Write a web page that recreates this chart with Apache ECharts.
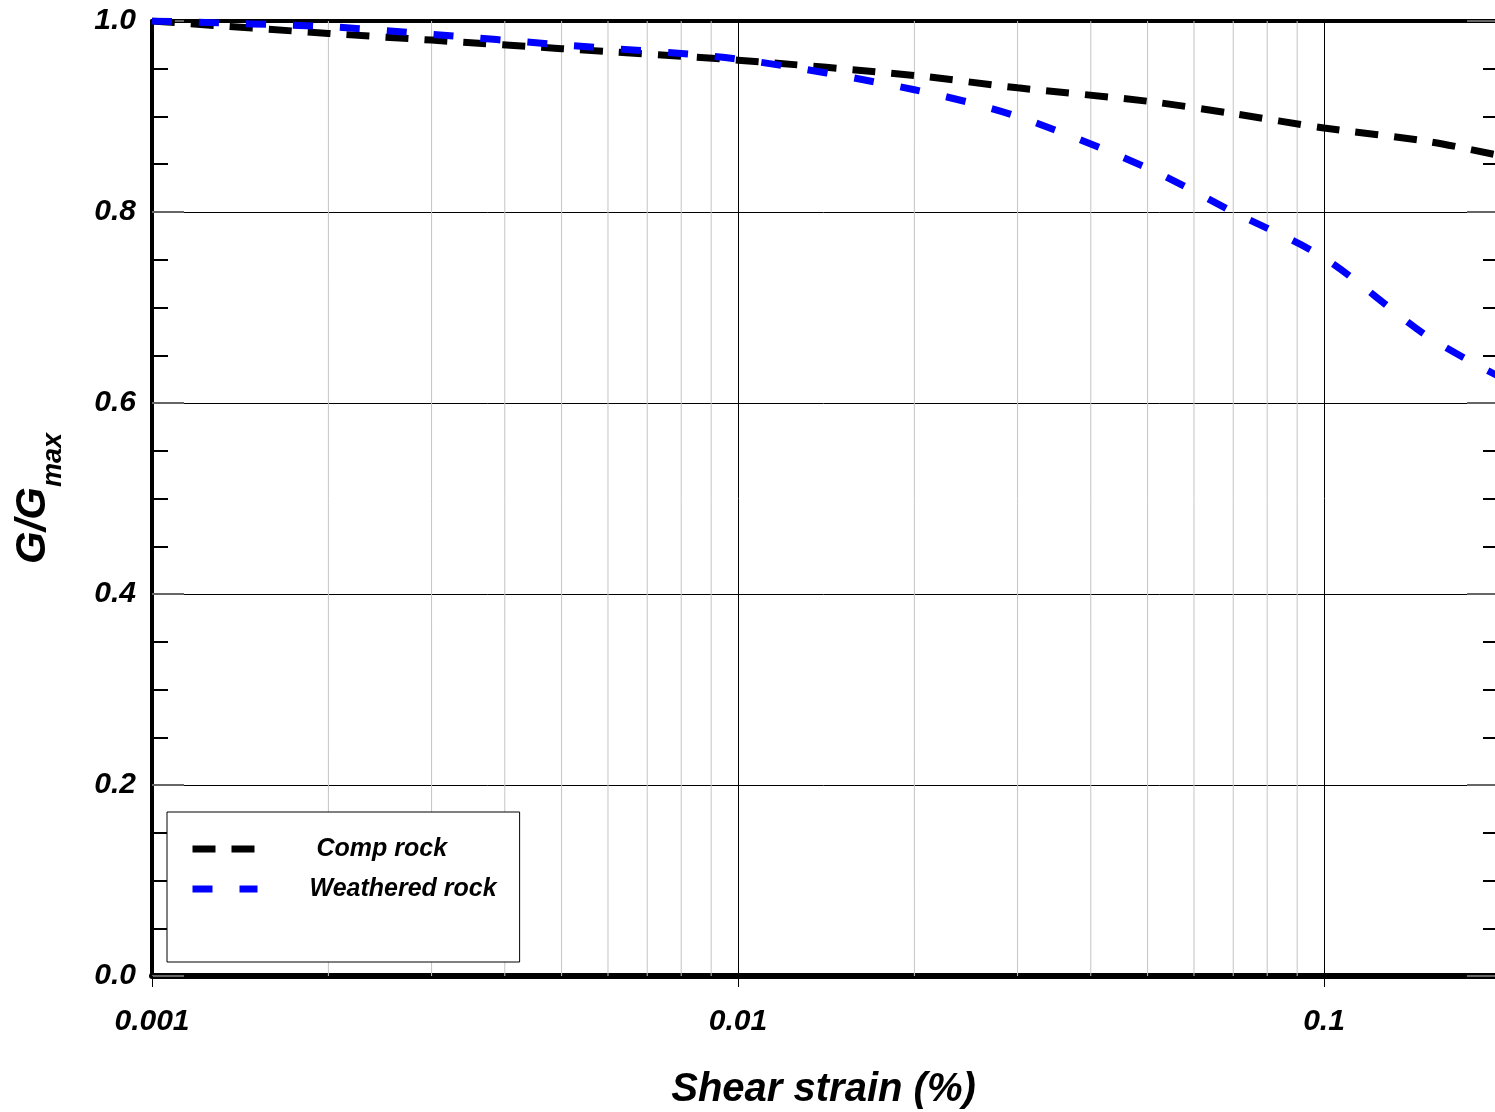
<!DOCTYPE html>
<html>
<head>
<meta charset="utf-8">
<script src="https://cdn.jsdelivr.net/npm/echarts@6/dist/echarts.min.js"></script>
<style>
html,body{margin:0;padding:0;background:#fff;}
#chart{width:1495px;height:1112px;}
</style>
</head>
<body>
<div id="chart"></div>
<script>
// ---- data ----
const strain = [0.001, 0.002, 0.003, 0.005, 0.01, 0.02, 0.03, 0.05, 0.07, 0.1, 0.15, 0.2];
const compRock = [1.0, 0.987, 0.980, 0.971, 0.959, 0.943, 0.930, 0.916, 0.903, 0.888, 0.874, 0.859];
const weatheredRock = [1.0, 0.994, 0.986, 0.975, 0.960, 0.928, 0.900, 0.846, 0.800, 0.752, 0.670, 0.627];
const seriesNames = ['Comp rock', 'Weathered rock'];
const xMin = 0.001;
const xMax = 0.1958;   // visible right edge of the (cropped) plot
const xTickValues = [0.001, 0.01, 0.1];
const xTickLabels = ['0.001', '0.01', '0.1'];
const yTickLabels = ['0.0', '0.2', '0.4', '0.6', '0.8', '1.0'];
const minorGridX = [0.002,0.003,0.004,0.005,0.006,0.007,0.008,0.009,
                    0.02,0.03,0.04,0.05,0.06,0.07,0.08,0.09];
const xTitle = 'Shear strain (%)';

const FONT = "'Liberation Sans', Arial, sans-serif";
const chart = echarts.init(document.getElementById('chart'), null, {renderer: 'canvas'});

function xLabel(v) {
  for (let i = 0; i < xTickValues.length; i++) {
    if (Math.abs(Math.log10(v) - Math.log10(xTickValues[i])) < 1e-6) return xTickLabels[i];
  }
  return '';
}
function yLabel(v) {
  const i = Math.round(v / 0.2);
  return yTickLabels[i] !== undefined ? yTickLabels[i] : '';
}
// vertical minor grid lines, drawn through the axis scale as broken line segments
const gridData = [];
minorGridX.forEach(v => { gridData.push([v, 0], [v, 1], [v, '-']); });

const legendText = {fontFamily: FONT, fontSize: 25, fontWeight: 'bold', fontStyle: 'italic', color: '#000', lineHeight: 30};

const option = {
  animation: false,
  backgroundColor: '#fff',
  grid: {left: 152, top: 21, right: 0, bottom: 136, containLabel: false, outerBoundsMode: 'none'},
  xAxis: [{
    type: 'log', logBase: 10, min: xMin, max: xMax, position: 'bottom',
    name: xTitle, nameLocation: 'middle', nameGap: 94,
    nameTextStyle: {fontFamily: FONT, fontSize: 40, fontWeight: 'bold', fontStyle: 'italic', color: '#000'},
    axisLine: {show: true, onZero: false, lineStyle: {color: '#000', width: 6}},
    axisTick: {show: true, inside: false, length: 11, lineStyle: {color: '#000', width: 1}},
    axisLabel: {show: true, margin: 31, showMaxLabel: false, formatter: xLabel,
      fontFamily: FONT, fontSize: 30, fontWeight: 'bold', fontStyle: 'italic', color: '#000'},
    splitLine: {show: true, lineStyle: {color: '#000', width: 1}},
    minorTick: {show: false}, minorSplitLine: {show: false}
  }, {
    type: 'log', logBase: 10, min: xMin, max: xMax, position: 'top',
    axisLine: {show: true, onZero: false, lineStyle: {color: '#000', width: 4}},
    axisTick: {show: false}, axisLabel: {show: false}, splitLine: {show: false}
  }],
  yAxis: [{
    type: 'value', min: 0, max: 1, interval: 0.2, position: 'left',
    name: '{a|G/G}{b|max}', nameLocation: 'middle', nameGap: 85,
    nameTextStyle: {
      color: '#000',
      rich: {
        a: {fontFamily: FONT, fontSize: 42, fontWeight: 'bold', fontStyle: 'italic', color: '#000'},
        b: {fontFamily: FONT, fontSize: 27, fontWeight: 'bold', fontStyle: 'italic', color: '#000', padding: [40, 0, 0, 0]}
      }
    },
    axisLine: {show: true, onZero: false, lineStyle: {color: '#000', width: 4}},
    axisTick: {show: true, inside: true, length: 32, lineStyle: {color: '#666', width: 2}},
    minorTick: {show: true, splitNumber: 4, length: 16, lineStyle: {color: '#000', width: 2}},
    axisLabel: {show: true, margin: 16, formatter: yLabel,
      fontFamily: FONT, fontSize: 30, fontWeight: 'bold', fontStyle: 'italic', color: '#000'},
    splitLine: {show: true, lineStyle: {color: '#000', width: 1}}
  }, {
    type: 'value', min: 0, max: 1, interval: 0.2, position: 'right',
    axisLine: {show: false},
    axisTick: {show: true, inside: true, length: 28, lineStyle: {color: '#666', width: 2}},
    minorTick: {show: true, splitNumber: 4, length: 12, lineStyle: {color: '#000', width: 2}},
    axisLabel: {show: false}, splitLine: {show: false}
  }],
  legend: {
    data: seriesNames, orient: 'vertical', left: 167, top: 812,
    backgroundColor: '#fff', borderColor: '#000', borderWidth: 1, borderRadius: 0,
    padding: [22, 23, 58, 22], itemWidth: 65, itemHeight: 14, itemGap: 10,
    selectedMode: false,
    lineStyle: {width: 7},
    itemStyle: {opacity: 0, color: 'rgba(0,0,0,0)', borderWidth: 0},
    formatter: function (name) { return (name === seriesNames[0] ? '{c|' : '{w|') + name + '}'; },
    textStyle: Object.assign({}, legendText, {
      rich: {
        c: Object.assign({}, legendText, {padding: [0, 0, 0, 54]}),
        w: Object.assign({}, legendText, {padding: [0, 0, 0, 47]})
      }
    })
  },
  series: [{
    name: 'minorgrid', type: 'line', z: 1, silent: true,
    data: gridData, connectNulls: false, showSymbol: false, symbol: 'none',
    lineStyle: {color: '#c4c4c4', width: 1, type: 'solid'},
    emphasis: {disabled: true}, tooltip: {show: false}
  }, {
    name: seriesNames[0], type: 'line', z: 3,
    data: strain.map((x, i) => [x, compRock[i]]),
    smooth: 0.3, showSymbol: false, symbol: 'none',
    lineStyle: {color: '#000', width: 7, type: [23, 16], cap: 'butt'},
    itemStyle: {color: '#000'}
  }, {
    name: seriesNames[1], type: 'line', z: 4,
    data: strain.map((x, i) => [x, weatheredRock[i]]),
    smooth: 0.3, showSymbol: false, symbol: 'none',
    lineStyle: {color: '#0000ff', width: 7, type: [20, 27], cap: 'butt'},
    itemStyle: {color: '#0000ff'}
  }]
};
chart.setOption(option);
</script>
</body>
</html>
